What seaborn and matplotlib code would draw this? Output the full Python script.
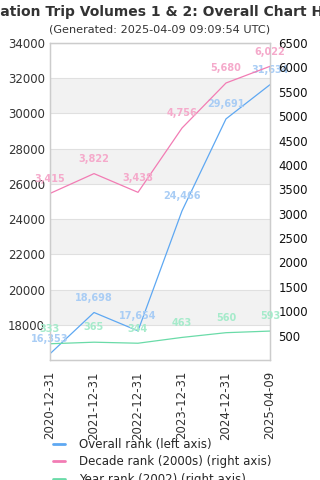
import matplotlib; matplotlib.use("Agg")
import numpy as np
import pandas as pd
import matplotlib.pyplot as plt
import seaborn as sns

dates = ["2020-12-31", "2021-12-31", "2022-12-31", "2023-12-31", "2024-12-31", "2025-04-09"]
overall = [16353, 18698, 17654, 24466, 29691, 31634]
decade = [3415, 3822, 3438, 4756, 5680, 6022]
year = [333, 365, 344, 463, 560, 593]

BLUE, PINK, GREEN = "#5ea8f2", "#f27cb4", "#6adba8"
LBL = {BLUE: "#a9cdf5", PINK: "#f5aacb", GREEN: "#a6ebcb"}

sns.set_style("white")
plt.rcParams["font.family"] = ["DejaVu Sans"]

df = pd.DataFrame({"x": range(len(dates)), "overall": overall, "decade": decade, "year": year})

fig = plt.figure(figsize=(3.2, 4.8), dpi=100)
ax = fig.add_axes([50 / 320, 1 - 360 / 480, 220 / 320, 317 / 480])
ax2 = ax.twinx()

# alternating bands on left-axis grid
ax.set_ylim(16000, 34000)
for lo in range(18000, 34000, 4000):
    ax.axhspan(lo, lo + 2000, color="#f2f2f2", zorder=0, lw=0)
for t in range(18000, 34001, 2000):
    ax.axhline(t, color="#e0e0e0", lw=0.8, zorder=0.5)

sns.lineplot(data=df, x="x", y="overall", ax=ax, color=BLUE, lw=0.9)
sns.lineplot(data=df, x="x", y="decade", ax=ax2, color=PINK, lw=0.9)
sns.lineplot(data=df, x="x", y="year", ax=ax2, color=GREEN, lw=0.9)
ax2.set_ylim(0, 6500)

for a, col, vals in [(ax, BLUE, overall), (ax2, PINK, decade), (ax2, GREEN, year)]:
    for i, v in enumerate(vals):
        a.annotate(f"{v:,}", (i, v), xytext=(0, 7), textcoords="offset points",
                   ha="center", va="bottom", fontsize=7, fontweight="bold",
                   color=LBL[col], clip_on=False, annotation_clip=False)

ax.set_xlim(0, len(dates) - 1)
ax.set_xticks(range(len(dates)))
ax.set_xticklabels(dates, rotation=90, fontsize=8.5, color="#333333")
ax.set_yticks(range(18000, 34001, 2000))
ax.tick_params(axis="y", labelsize=8.5, labelcolor="#333333", length=0)
ax.tick_params(axis="x", length=0, pad=8)
ax2.set_yticks(range(500, 6501, 500))
ax2.tick_params(axis="y", labelsize=8.5, labelcolor="#111111", length=0, pad=6)
ax.set_xlabel(""); ax.set_ylabel(""); ax2.set_ylabel("")
for a in (ax, ax2):
    for s in a.spines.values():
        s.set_color("#cccccc"); s.set_linewidth(0.9)

fig.text(0.5, 1 - 12 / 480, "Foundation Trip Volumes 1 & 2: Overall Chart History",
         ha="center", va="center", fontsize=10, fontweight="bold", color="#333333")
fig.text(0.5, 1 - 30 / 480, "(Generated: 2025-04-09 09:09:54 UTC)",
         ha="center", va="center", fontsize=8.1, color="#333333")

handles = [plt.Line2D([], [], color=c, lw=2) for c in (BLUE, PINK, GREEN)]
labels = ["Overall rank (left axis)", "Decade rank (2000s) (right axis)", "Year rank (2002) (right axis)"]
fig.legend(handles, labels, loc="upper left", bbox_to_anchor=(48 / 320, 1 - 433 / 480),
           frameon=False, fontsize=8.5, handlelength=1.0, handletextpad=1.2,
           labelspacing=0.4, borderaxespad=0)

fig.savefig("out.png", dpi=100)
